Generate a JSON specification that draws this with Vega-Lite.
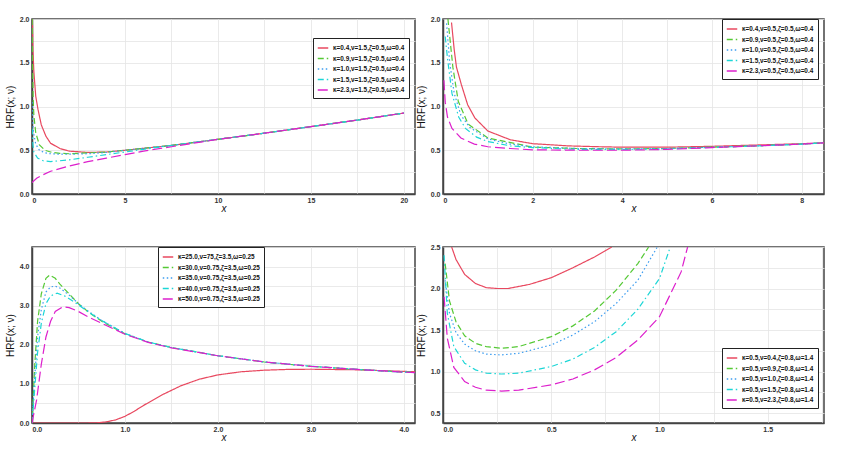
{
  "$schema": "https://vega.github.io/schema/vega-lite/v6.json",
  "padding": {"left": 4, "top": 14, "right": 10, "bottom": 2},
  "background": "white",
  "datasets": {
    "p1": [
      {"s": "κ=0.4,ν=1.5,ζ=0.5,ω=0.4", "x": [0.02,0.05,0.1,0.2,0.32,0.5,0.75,1,1.5,2,3,4,5,7.5,10,12.5,15,17.5,20], "y": [2.0,1.65,1.4,1.12,0.97,0.79,0.66,0.58,0.52,0.49,0.475,0.48,0.5,0.555,0.625,0.695,0.77,0.845,0.925]},
      {"s": "κ=0.9,ν=1.5,ζ=0.5,ω=0.4", "x": [0.01,0.03,0.06,0.1,0.2,0.4,0.7,1,1.5,2,3,4,5,7.5,10,12.5,15,17.5,20], "y": [2.0,1.5,1.1,0.9,0.7,0.56,0.5,0.48,0.465,0.46,0.47,0.48,0.5,0.555,0.625,0.695,0.77,0.845,0.925]},
      {"s": "κ=1.0,ν=1.5,ζ=0.5,ω=0.4", "x": [0.01,0.03,0.06,0.1,0.2,0.4,0.7,1,1.5,2,3,4,5,7.5,10,12.5,15,17.5,20], "y": [1.05,0.85,0.75,0.68,0.57,0.5,0.47,0.46,0.455,0.455,0.46,0.475,0.5,0.555,0.625,0.695,0.77,0.845,0.925]},
      {"s": "κ=1.5,ν=1.5,ζ=0.5,ω=0.4", "x": [0.01,0.05,0.1,0.3,0.6,1,2,3,4,5,6,7.5,10,12.5,15,17.5,20], "y": [0.75,0.56,0.48,0.41,0.38,0.37,0.39,0.42,0.45,0.48,0.51,0.555,0.625,0.695,0.77,0.845,0.925]},
      {"s": "κ=2.3,ν=1.5,ζ=0.5,ω=0.4", "x": [0,0.25,0.5,1,2,3,4,5,6,7.5,10,12.5,15,17.5,20], "y": [0.13,0.18,0.21,0.26,0.32,0.37,0.41,0.45,0.49,0.54,0.625,0.695,0.77,0.845,0.925]}
    ],
    "p2": [
      {"s": "κ=0.4,ν=0.5,ζ=0.5,ω=0.4", "x": [0.19,0.25,0.3,0.41,0.55,0.71,1,1.5,2,2.8,3.5,4,5,6,7,8,8.5], "y": [1.96,1.65,1.45,1.25,1.02,0.87,0.72,0.62,0.575,0.55,0.54,0.535,0.535,0.545,0.56,0.575,0.585]},
      {"s": "κ=0.9,ν=0.5,ζ=0.5,ω=0.4", "x": [0.11,0.22,0.34,0.56,1,1.68,2,3,4,5,6,7,8,8.5], "y": [2.0,1.45,1.06,0.8,0.64,0.57,0.535,0.52,0.515,0.52,0.535,0.55,0.57,0.585]},
      {"s": "κ=1.0,ν=0.5,ζ=0.5,ω=0.4", "x": [0.08,0.15,0.25,0.4,0.6,1,1.5,2,3,4,5,6,7,8,8.5], "y": [1.95,1.5,1.15,0.9,0.76,0.63,0.57,0.54,0.52,0.515,0.52,0.535,0.55,0.57,0.585]},
      {"s": "κ=1.5,ν=0.5,ζ=0.5,ω=0.4", "x": [0.05,0.1,0.2,0.35,0.5,0.75,1,1.5,2,3,4,5,6,7,8,8.5], "y": [1.8,1.55,1.15,0.88,0.75,0.65,0.6,0.55,0.53,0.51,0.51,0.515,0.533,0.55,0.57,0.585]},
      {"s": "κ=2.3,ν=0.5,ζ=0.5,ω=0.4", "x": [0.02,0.05,0.1,0.2,0.4,0.7,1,1.5,2,3,4,5,6,7,8,8.5], "y": [1.3,1.05,0.88,0.75,0.64,0.57,0.54,0.52,0.505,0.5,0.5,0.51,0.53,0.55,0.57,0.585]}
    ],
    "p3": [
      {"s": "κ=25.0,ν=75,ζ=3.5,ω=0.25", "x": [0,0.6,0.7,0.8,0.9,1.0,1.1,1.2,1.4,1.6,1.8,2.0,2.25,2.5,2.75,3,3.5,4,4.12], "y": [0,0,0.005,0.03,0.08,0.17,0.3,0.45,0.72,0.95,1.12,1.23,1.31,1.35,1.37,1.375,1.36,1.32,1.31]},
      {"s": "κ=30.0,ν=0.75,ζ=3.5,ω=0.25", "x": [0,0.03,0.06,0.1,0.15,0.19,0.25,0.3,0.4,0.5,0.6,0.75,1,1.25,1.5,2,2.5,3,3.5,4,4.12], "y": [0,1.5,2.6,3.3,3.7,3.78,3.7,3.55,3.3,3.05,2.85,2.6,2.28,2.07,1.93,1.72,1.56,1.45,1.37,1.3,1.29]},
      {"s": "κ=35.0,ν=0.75,ζ=3.5,ω=0.25", "x": [0,0.03,0.06,0.1,0.15,0.2,0.25,0.3,0.4,0.5,0.6,0.75,1,1.25,1.5,2,2.5,3,3.5,4,4.12], "y": [0,1.2,2.2,2.9,3.35,3.48,3.5,3.45,3.27,3.05,2.87,2.62,2.29,2.07,1.93,1.72,1.56,1.45,1.37,1.3,1.29]},
      {"s": "κ=40.0,ν=0.75,ζ=3.5,ω=0.25", "x": [0,0.03,0.06,0.1,0.15,0.2,0.27,0.35,0.45,0.6,0.75,1,1.25,1.5,2,2.5,3,3.5,4,4.12], "y": [0,0.9,1.8,2.55,3.05,3.25,3.32,3.25,3.1,2.85,2.62,2.29,2.07,1.93,1.72,1.56,1.45,1.37,1.3,1.29]},
      {"s": "κ=50.0,ν=0.75,ζ=3.5,ω=0.25", "x": [0,0.05,0.1,0.15,0.2,0.25,0.33,0.4,0.5,0.6,0.75,1,1.25,1.5,2,2.5,3,3.5,4,4.12], "y": [0,0.6,1.5,2.2,2.6,2.85,2.97,2.95,2.85,2.72,2.55,2.27,2.06,1.92,1.72,1.56,1.45,1.37,1.3,1.29]}
    ],
    "p4": [
      {"s": "κ=0.5,ν=0.4,ζ=0.8,ω=1.4", "x": [0.04,0.06,0.1,0.15,0.2,0.25,0.3,0.4,0.5,0.6,0.7,0.78], "y": [2.5,2.35,2.17,2.06,2.01,2.0,2.0,2.05,2.13,2.25,2.38,2.5]},
      {"s": "κ=0.5,ν=0.9,ζ=0.8,ω=1.4", "x": [0.01,0.03,0.06,0.1,0.15,0.2,0.27,0.35,0.5,0.6,0.7,0.8,0.9,0.95], "y": [2.3,1.85,1.6,1.43,1.34,1.3,1.28,1.3,1.42,1.55,1.73,1.98,2.3,2.5]},
      {"s": "κ=0.5,ν=1.0,ζ=0.8,ω=1.4", "x": [0.01,0.03,0.06,0.1,0.15,0.2,0.27,0.35,0.5,0.6,0.7,0.8,0.9,0.99], "y": [2.1,1.7,1.47,1.33,1.25,1.21,1.2,1.22,1.32,1.44,1.6,1.82,2.1,2.5]},
      {"s": "κ=0.5,ν=1.5,ζ=0.8,ω=1.4", "x": [0.005,0.02,0.05,0.1,0.15,0.2,0.27,0.35,0.5,0.6,0.7,0.8,0.9,1.0,1.05], "y": [2.4,1.7,1.3,1.1,1.02,0.98,0.97,0.98,1.06,1.15,1.29,1.48,1.75,2.12,2.5]},
      {"s": "κ=0.5,ν=2.3,ζ=0.8,ω=1.4", "x": [0.005,0.02,0.05,0.1,0.15,0.2,0.27,0.35,0.5,0.6,0.7,0.8,0.9,1.0,1.1,1.13], "y": [1.9,1.4,1.05,0.88,0.81,0.775,0.765,0.775,0.84,0.91,1.02,1.17,1.38,1.66,2.2,2.5]}
    ]
  },
  "vconcat": [
    {
      "hconcat": [
        {
          "width": 383, "height": 175,
          "data": {"name": "p1"},
          "transform": [{"flatten": ["x", "y"]}],
          "mark": {"type": "line", "clip": true, "strokeWidth": 1.2},
          "encoding": {
            "x": {"field": "x", "type": "quantitative", "title": "x", "scale": {"domain": [0, 20.6], "nice": false},
              "axis": {"values": [0,2.5,5,7.5,10,12.5,15,17.5,20], "labelExpr": "datum.value % 5 == 0 ? datum.label : ''"}},
            "y": {"field": "y", "type": "quantitative", "title": "HRF(x; ν)", "scale": {"domain": [0, 2], "nice": false},
              "axis": {"values": [0,0.25,0.5,0.75,1,1.25,1.5,1.75,2], "format": ".1f", "labelExpr": "datum.value * 2 % 1 == 0 ? datum.label : ''"}},
            "color": {"field": "s", "type": "nominal", "scale": {"range": ["#e8485f", "#55c935", "#3d9df0", "#1cd6d6", "#dd1fcc"]}, "legend": {"orient": "none", "legendX": 281, "legendY": 19}},
            "strokeDash": {"field": "s", "type": "nominal", "scale": {"range": [[1, 0], [6, 3], [1.5, 2.5], [6, 3, 1.5, 3], [10, 4]]}, "legend": {"orient": "none", "legendX": 281, "legendY": 19}}
          }
        },
        {
          "width": 381, "height": 175,
          "data": {"name": "p2"},
          "transform": [{"flatten": ["x", "y"]}],
          "mark": {"type": "line", "clip": true, "strokeWidth": 1.2},
          "encoding": {
            "x": {"field": "x", "type": "quantitative", "title": "x", "scale": {"domain": [0, 8.5], "nice": false},
              "axis": {"values": [0,1,2,3,4,5,6,7,8], "labelExpr": "datum.value % 2 == 0 ? datum.label : ''"}},
            "y": {"field": "y", "type": "quantitative", "title": "HRF(x; ν)", "scale": {"domain": [0, 2], "nice": false},
              "axis": {"values": [0,0.25,0.5,0.75,1,1.25,1.5,1.75,2], "format": ".1f", "labelExpr": "datum.value * 2 % 1 == 0 ? datum.label : ''"}},
            "color": {"field": "s", "type": "nominal", "scale": {"range": ["#e8485f", "#55c935", "#3d9df0", "#1cd6d6", "#dd1fcc"]}, "legend": {"orient": "none", "legendX": 279, "legendY": 0}},
            "strokeDash": {"field": "s", "type": "nominal", "scale": {"range": [[1, 0], [6, 3], [1.5, 2.5], [6, 3, 1.5, 3], [10, 4]]}, "legend": {"orient": "none", "legendX": 279, "legendY": 0}}
          }
        }
      ],
      "spacing": 28,
      "bounds": "flush",
      "resolve": {"scale": {"color": "independent", "strokeDash": "independent"}}
    },
    {
      "hconcat": [
        {
          "width": 383, "height": 176,
          "data": {"name": "p3"},
          "transform": [{"flatten": ["x", "y"]}],
          "mark": {"type": "line", "clip": true, "strokeWidth": 1.2},
          "encoding": {
            "x": {"field": "x", "type": "quantitative", "title": "x", "scale": {"domain": [0, 4.12], "nice": false},
              "axis": {"values": [0,0.5,1,1.5,2,2.5,3,3.5,4], "labelExpr": "datum.value % 1 == 0 ? datum.label : ''"}},
            "y": {"field": "y", "type": "quantitative", "title": "HRF(x; ν)", "scale": {"domain": [0, 4.5], "nice": false},
              "axis": {"values": [0,0.5,1,1.5,2,2.5,3,3.5,4,4.5], "labelExpr": "datum.value % 1 == 0 ? datum.label : ''"}},
            "color": {"field": "s", "type": "nominal", "scale": {"range": ["#e8485f", "#55c935", "#3d9df0", "#1cd6d6", "#dd1fcc"]}, "legend": {"orient": "none", "legendX": 126, "legendY": 0}},
            "strokeDash": {"field": "s", "type": "nominal", "scale": {"range": [[1, 0], [6, 3], [1.5, 2.5], [6, 3, 1.5, 3], [10, 4]]}, "legend": {"orient": "none", "legendX": 126, "legendY": 0}}
          }
        },
        {
          "width": 381, "height": 176,
          "data": {"name": "p4"},
          "transform": [{"flatten": ["x", "y"]}],
          "mark": {"type": "line", "clip": true, "strokeWidth": 1.2},
          "encoding": {
            "x": {"field": "x", "type": "quantitative", "title": "x", "scale": {"domain": [0, 1.76], "nice": false},
              "axis": {"values": [0,0.25,0.5,0.75,1,1.25,1.5,1.75], "format": ".1f", "labelExpr": "datum.value * 2 % 1 == 0 ? datum.label : ''"}},
            "y": {"field": "y", "type": "quantitative", "title": "HRF(x; ν)", "scale": {"domain": [0.38, 2.5], "nice": false},
              "axis": {"values": [0.5,0.75,1,1.25,1.5,1.75,2,2.25,2.5], "format": ".1f", "labelExpr": "datum.value * 2 % 1 == 0 ? datum.label : ''"}},
            "color": {"field": "s", "type": "nominal", "scale": {"range": ["#e8485f", "#55c935", "#3d9df0", "#1cd6d6", "#dd1fcc"]}, "legend": {"orient": "none", "legendX": 279, "legendY": 101}},
            "strokeDash": {"field": "s", "type": "nominal", "scale": {"range": [[1, 0], [6, 3], [1.5, 2.5], [6, 3, 1.5, 3], [10, 4]]}, "legend": {"orient": "none", "legendX": 279, "legendY": 101}}
          }
        }
      ],
      "spacing": 28,
      "bounds": "flush",
      "resolve": {"scale": {"color": "independent", "strokeDash": "independent"}}
    }
  ],
  "spacing": 28,
  "resolve": {"scale": {"color": "independent", "strokeDash": "independent"}},
  "config": {
    "font": "Liberation Sans",
    "view": {"stroke": "#444", "strokeWidth": 1.5},
    "axis": {
      "grid": true, "gridColor": "#e4e4e4", "gridWidth": 0.8,
      "ticks": false, "domainColor": "#444", "domainWidth": 1.5,
      "labelFontSize": 7, "labelFontWeight": "bold", "labelColor": "#333", "labelPadding": 3,
      "titleFontSize": 10, "titleFontWeight": "normal", "titleColor": "#111"
    },
    "axisX": {"titleFontStyle": "italic", "titlePadding": 0, "labelPadding": 2},
    "axisY": {"titlePadding": 4},
    "legend": {
      "title": null, "symbolType": "stroke", "symbolSize": 110, "symbolStrokeWidth": 1.5,
      "labelFontSize": 6.4, "labelFontWeight": "bold", "labelColor": "#111",
      "rowPadding": 0.5, "padding": 4, "strokeColor": "#222", "fillColor": "white",
      "labelLimit": 200
    }
  }
}
